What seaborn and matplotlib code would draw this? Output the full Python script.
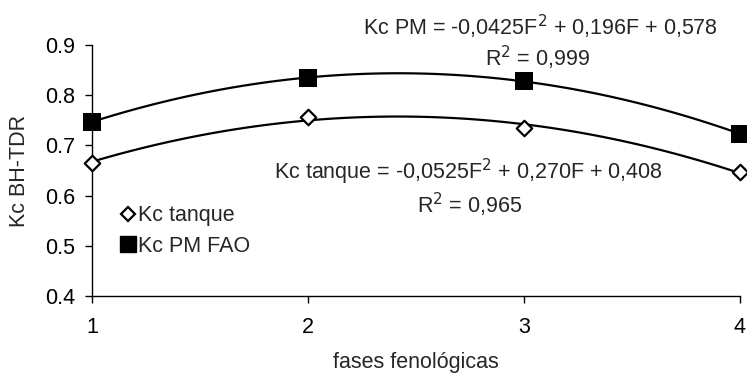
import matplotlib
matplotlib.use("Agg")
import matplotlib.pyplot as plt
import seaborn as sns
import pandas as pd
from matplotlib.lines import Line2D

fases = [1, 2, 3, 4]
kc_tanque = [0.665, 0.757, 0.735, 0.647]
kc_pm = [0.747, 0.835, 0.828, 0.723]
y_ticks = [0.4, 0.5, 0.6, 0.7, 0.8, 0.9]
x_ticks = [1, 2, 3, 4]

sns.set_style("white")
plt.rcParams['font.family'] = ['Liberation Sans', 'DejaVu Sans']
FS = 15.5

df = pd.DataFrame({"fase": fases, "tanque": kc_tanque, "pm": kc_pm})

W, H = 747, 373
fig = plt.figure(figsize=(W / 100, H / 100), dpi=100)
ax = fig.add_axes([0.123, 0.207, 0.8676, 0.672])

for col in ["pm", "tanque"]:
    sns.regplot(data=df, x="fase", y=col, order=2, ci=None, scatter=False,
                line_kws=dict(color="black", lw=1.6), ax=ax)

sns.scatterplot(data=df, x="fase", y="pm", marker="s", s=165, color="black",
                edgecolor="black", linewidth=0, ax=ax, zorder=5, clip_on=False)
sns.scatterplot(data=df, x="fase", y="tanque", marker="D", s=62, color="white",
                edgecolor="black", linewidth=1.6, ax=ax, zorder=5, clip_on=False)

ax.set_xlim(1, 4)
ax.set_ylim(0.4, 0.9)
ax.set_xticks(x_ticks)
ax.set_xticklabels([str(v) for v in x_ticks])
ax.set_yticks(y_ticks)
ax.set_yticklabels([f"{v:.1f}" for v in y_ticks])
ax.tick_params(axis="both", direction="out", length=5, width=1, labelsize=FS,
               color="black", labelcolor="black", bottom=True, left=True)
ax.tick_params(axis="x", pad=10)
ax.tick_params(axis="y", pad=7)
for s in ["top", "right"]:
    ax.spines[s].set_visible(False)
for s in ["left", "bottom"]:
    ax.spines[s].set_color("black")
    ax.spines[s].set_linewidth(1)

ax.set_xlabel("fases fenológicas", fontsize=FS)
ax.set_ylabel("Kc BH-TDR", fontsize=FS)
ax.xaxis.label.set_va("center")
ax.yaxis.label.set_va("center")
ax.xaxis.set_label_coords(0.5, -0.2645)
ax.yaxis.set_label_coords(-0.111, 0.50)

def ftext(x, y, s, **kw):
    fig.text(x / W, 1 - y / H, s, ha="center", va="center", fontsize=FS, **kw)

ftext(540, 27, "Kc PM = -0,0425F$^2$ + 0,196F + 0,578")
ftext(538, 58, "R$^2$ = 0,999")
ftext(468, 172, "Kc tanque = -0,0525F$^2$ + 0,270F + 0,408")
ftext(470, 205, "R$^2$ = 0,965")

handles = [
    Line2D([], [], marker="D", ls="none", markerfacecolor="white", markeredgecolor="black",
           markersize=7, markeredgewidth=1.6),
    Line2D([], [], marker="s", ls="none", markerfacecolor="black", markeredgecolor="black",
           markersize=12),
]
ax.legend(handles, ["Kc tanque", "Kc PM FAO"], loc="upper left",
          bbox_to_anchor=(0.022, 0.405), frameon=False, fontsize=FS,
          handletextpad=0.0, handlelength=1.0, labelspacing=0.45, borderpad=0)

fig.savefig("out.png", dpi=100)
